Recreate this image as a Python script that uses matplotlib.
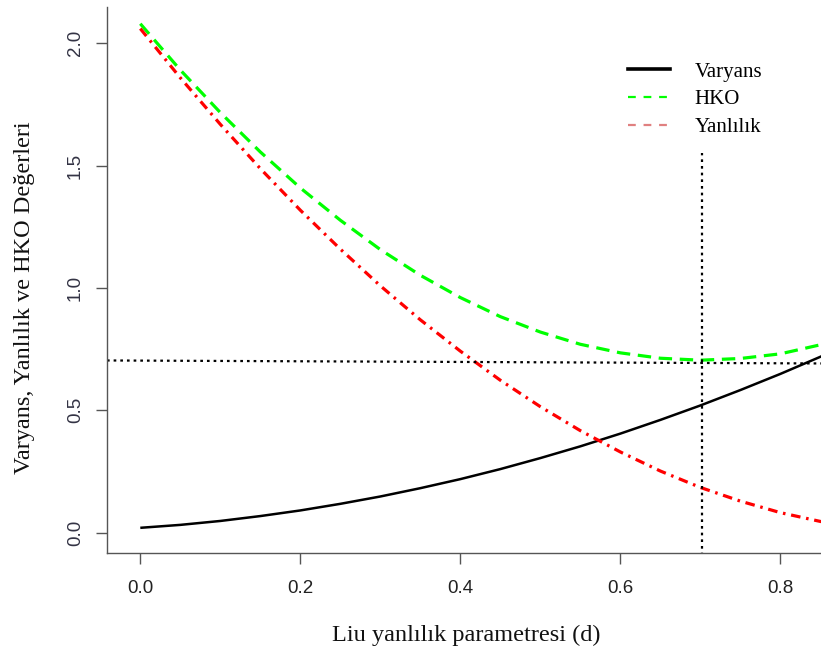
import matplotlib
matplotlib.use("Agg")
import matplotlib.pyplot as plt
from matplotlib.lines import Line2D

# ---- data ----
d_values = [0.00, 0.05, 0.10, 0.15, 0.20, 0.25, 0.30, 0.35, 0.40, 0.45,
            0.50, 0.55, 0.60, 0.65, 0.70, 0.75, 0.80, 0.85, 0.90]
varyans = [0.020, 0.032, 0.048, 0.068, 0.091, 0.118, 0.148, 0.182, 0.219, 0.260,
           0.305, 0.353, 0.405, 0.461, 0.520, 0.583, 0.649, 0.719, 0.792]
yanlilik = [2.060, 1.859, 1.669, 1.488, 1.318, 1.159, 1.009, 0.870, 0.742, 0.623,
            0.515, 0.417, 0.330, 0.252, 0.185, 0.129, 0.082, 0.046, 0.021]
hko = [2.080, 1.891, 1.717, 1.556, 1.409, 1.277, 1.157, 1.052, 0.961, 0.883,
       0.820, 0.770, 0.735, 0.713, 0.705, 0.712, 0.731, 0.768, 0.815]

hline_x = [-0.05, 0.90]
hline_y = [0.704, 0.691]
vline_x = [0.702, 0.702]
vline_y = [-0.20, 1.55]

x_ticks = [0.0, 0.2, 0.4, 0.6, 0.8]
y_ticks = [0.0, 0.5, 1.0, 1.5, 2.0]
x_ticklabels = ["0.0", "0.2", "0.4", "0.6", "0.8"]
y_ticklabels = ["0.0", "0.5", "1.0", "1.5", "2.0"]

legend_labels = ["Varyans", "HKO", "Yanlılık"]
x_label = "Liu yanlılık parametresi (d)"
y_label = "Varyans, Yanlılık ve HKO Değerleri"

# ---- figure ----
W, H = 821, 651
fig = plt.figure(figsize=(W / 100, H / 100), dpi=100)
fig.patch.set_facecolor("white")

ax_left_px, ax_right_px = 107.3, 826.0
ax_top_px, ax_bot_px = 6.7, 552.7
ax = fig.add_axes([ax_left_px / W, 1 - ax_bot_px / H,
                   (ax_right_px - ax_left_px) / W, (ax_bot_px - ax_top_px) / H])

ax.plot(d_values, varyans, color="black", lw=1.8, solid_capstyle="butt")
ax.plot(d_values, hko, color="#00ff00", lw=2.3, dashes=(4.2, 2.4))
ax.plot(d_values, yanlilik, color="#ff0000", lw=2.3, dashes=(3.0, 1.8, 0.8, 1.8))
ax.plot(hline_x, hline_y, color="black", lw=1.6, dashes=(1.2, 1.8))
ax.plot(vline_x, vline_y, color="black", lw=1.6, dashes=(1.2, 1.8))

ax.set_xlim(-0.04125, 0.857)
ax.set_ylim(-0.0817, 2.1496)

ax.set_xticks(x_ticks)
ax.set_xticklabels(x_ticklabels, fontfamily="Liberation Sans", fontsize=13.5, color="#222222")
ax.set_yticks(y_ticks)
ax.set_yticklabels(y_ticklabels, fontfamily="Liberation Sans", fontsize=13.5, color="#333344",
                   rotation=90, va="center")

ax.tick_params(axis="both", direction="out", length=7.9, width=1.0, color="#555555")
ax.tick_params(axis="x", pad=12)
ax.tick_params(axis="y", pad=9)

for side in ["top", "right"]:
    ax.spines[side].set_visible(False)
for side in ["left", "bottom"]:
    ax.spines[side].set_color("#555555")
    ax.spines[side].set_linewidth(1.0)

ax.set_xlabel(x_label, fontfamily="Liberation Serif", fontsize=17.5, color="#111111")
ax.xaxis.label.set_va("center")
ax.xaxis.set_label_coords(0.499, (ax_bot_px - 635) / (ax_bot_px - ax_top_px))
ax.set_ylabel(y_label, fontfamily="Liberation Serif", fontsize=17.5, color="#111111")
ax.yaxis.label.set_va("center")
ax.yaxis.set_label_coords((25 - ax_left_px) / (ax_right_px - ax_left_px),
                          (ax_bot_px - 298) / (ax_bot_px - ax_top_px))

handles = [
    Line2D([], [], color="black", lw=2.6),
    Line2D([], [], color="#00ff00", lw=1.6, dashes=(3.5, 3.5)),
    Line2D([], [], color="#e08080", lw=1.6, dashes=(3.5, 3.5)),
]
ax.legend(handles, legend_labels, loc="upper left",
          bbox_to_anchor=(628 / W, 1 - 62 / H), bbox_transform=fig.transFigure,
          frameon=False, borderpad=0, borderaxespad=0, handlelength=2.0,
          handletextpad=1.2, labelspacing=0.4,
          prop={"family": "Liberation Serif", "size": 15})

fig.savefig("out.png", dpi=100, facecolor="white")
